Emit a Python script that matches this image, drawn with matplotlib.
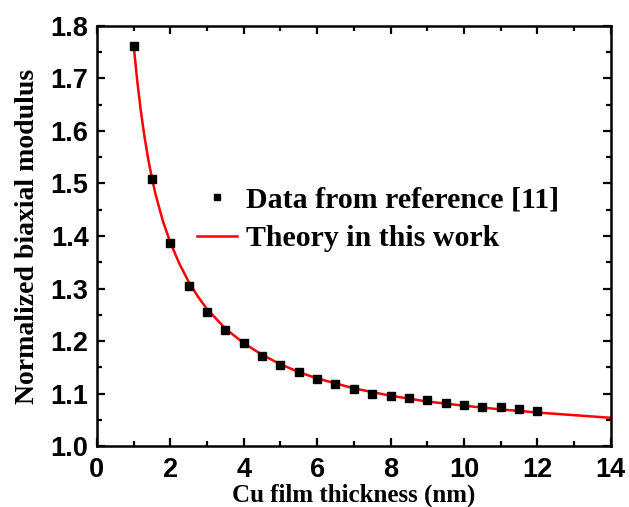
import matplotlib
matplotlib.use("Agg")
import matplotlib.pyplot as plt
from matplotlib.ticker import MultipleLocator

data_x = [1, 1.5, 2, 2.5, 3, 3.5, 4, 4.5, 5, 5.5, 6, 6.5, 7, 7.5, 8, 8.5, 9, 9.5, 10, 10.5, 11, 11.5, 12]
data_y = [1.762, 1.508, 1.387, 1.305, 1.256, 1.222, 1.196, 1.172, 1.154, 1.141, 1.128, 1.118, 1.108,
          1.099, 1.096, 1.091, 1.087, 1.083, 1.078, 1.074, 1.075, 1.071, 1.066]

theory_x = [1.0, 1.1, 1.2, 1.3, 1.4, 1.5, 1.6, 1.8, 2.0, 2.25, 2.5, 2.75, 3.0, 3.5, 4.0, 4.5, 5.0,
            5.5, 6.0, 7.0, 8.0, 9.0, 10.0, 11.0, 12.0, 13.0, 14.0]
theory_y = [1.765, 1.695, 1.637, 1.588, 1.546, 1.510, 1.479, 1.428, 1.388, 1.347, 1.313, 1.285,
            1.261, 1.224, 1.196, 1.174, 1.156, 1.141, 1.129, 1.110, 1.096, 1.085, 1.077, 1.070,
            1.064, 1.059, 1.054]

fig = plt.figure(figsize=(6.29, 5.07), dpi=100)
ax = fig.add_axes([0.154, 0.120, 0.817, 0.829])

ax.plot(data_x, data_y, 's', color='black', markersize=5.5, label='Data from reference [11]', zorder=3)
ax.plot(theory_x, theory_y, '-', color='red', linewidth=1.8, label='Theory in this work', zorder=2)

ax.set_xlim(0, 14)
ax.set_ylim(1.0, 1.8)
ax.xaxis.set_major_locator(MultipleLocator(2))
ax.xaxis.set_minor_locator(MultipleLocator(1))
ax.yaxis.set_major_locator(MultipleLocator(0.1))
ax.yaxis.set_minor_locator(MultipleLocator(0.05))
ax.tick_params(which='both', direction='in', top=True, right=True, width=1.6)
ax.tick_params(which='major', length=6, labelsize=19.5)
ax.tick_params(which='minor', length=3.5)
ax.tick_params(axis='x', which='major', pad=8)
ax.tick_params(axis='y', which='major', pad=6)
for sp in ax.spines.values():
    sp.set_linewidth(1.8)

for lab in ax.get_xticklabels() + ax.get_yticklabels():
    lab.set_fontfamily('Liberation Sans')
    lab.set_fontweight('bold')

ax.set_xlabel('Cu film thickness (nm)', fontfamily='Liberation Serif', fontweight='bold', fontsize=18, labelpad=0)
ax.set_ylabel('Normalized biaxial modulus', fontfamily='Liberation Serif', fontweight='bold', fontsize=20, labelpad=8)

leg = ax.legend(loc='center left', bbox_to_anchor=(0.195, 0.54), frameon=False, borderpad=0, borderaxespad=0,
                prop={'family': 'Liberation Serif', 'weight': 'bold', 'size': 21.5},
                handlelength=1.35, handletextpad=0.3, labelspacing=0.4, markerscale=0.75)

fig.savefig('out.png', dpi=100)
